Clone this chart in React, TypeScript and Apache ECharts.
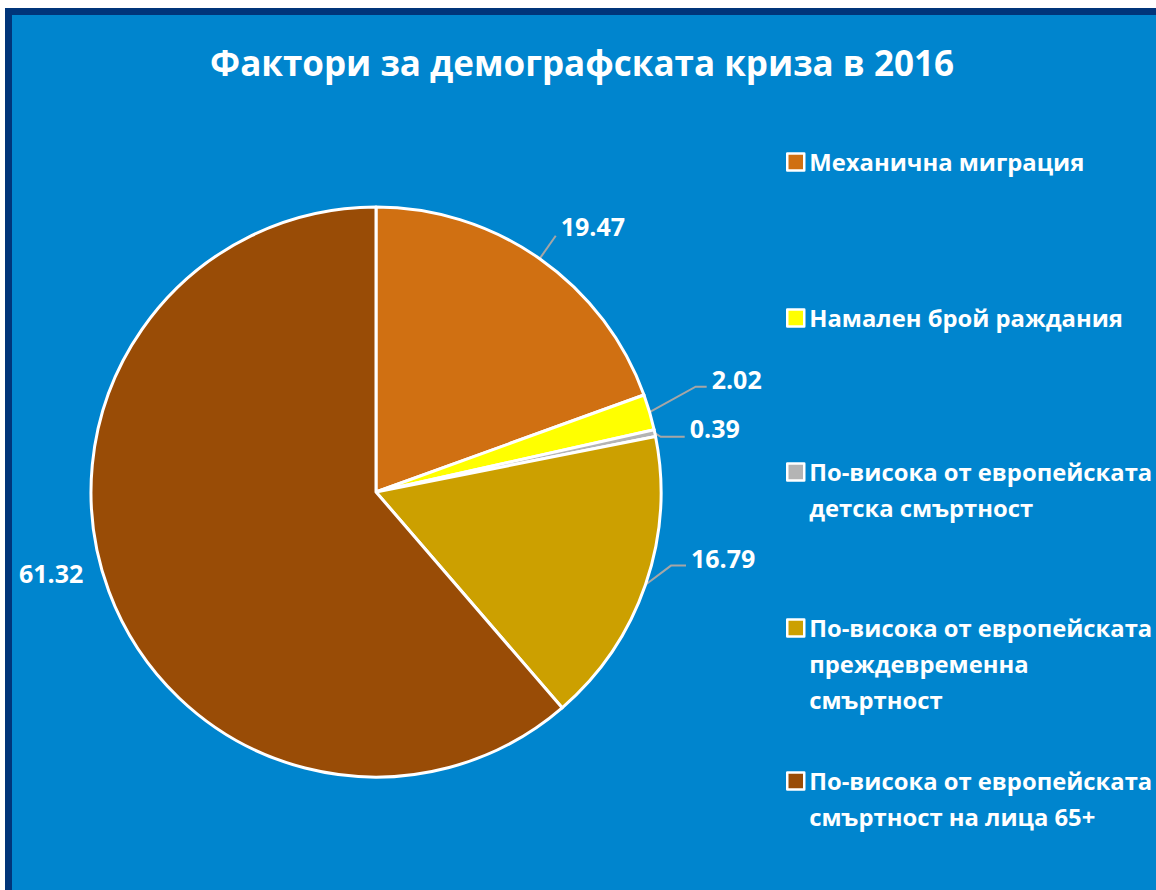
import React, { useEffect, useRef } from "react";
import * as echarts from "echarts";

const titleText = "Фактори за демографската криза в 2016";
const categories = [
  "Механична миграция",
  "Намален брой раждания",
  "По-висока от европейската детска смъртност",
  "По-висока от европейската преждевременна смъртност",
  "По-висока от европейската смъртност на лица 65+",
];
const legendLines = [
  ["Механична миграция"],
  ["Намален брой раждания"],
  ["По-висока от европейската", "детска смъртност"],
  ["По-висока от европейската", "преждевременна", "смъртност"],
  ["По-висока от европейската", "смъртност на лица 65+"],
];
const values = [19.47, 2.02, 0.39, 16.79, 61.32];
const colors = ["#D07012", "#FFFF00", "#B4B4B4", "#CCA000", "#994C06"];

// label layout tweaks (styling)
const lineLen = [28, 48, 6, 27, 22];
const lineLen2 = [0, 11, 24, 15, 0];
const lineShift = [0, -12, 5, -28, 0];
const textShift = [-10, -20, -3.5, -36, -25.5];
const showLine = [true, true, true, true, false];
const legendFirstLineY = [162, 318, 472, 628, 781];
const LEGEND_LH = 36;

const FONT = "'Open Sans', 'Noto Sans', sans-serif";

export default function App() {
  const ref = useRef<HTMLDivElement>(null);
  useEffect(() => {
    if (!ref.current) return;
    const chart = echarts.init(ref.current, undefined, { renderer: "svg" });
    const option: any = {
      animation: false,
      title: {
        text: titleText,
        left: 582,
        top: 45,
        textAlign: "center",
        padding: 0,
        textStyle: { color: "#fff", fontFamily: FONT, fontWeight: "bold", fontSize: 35 },
      },
      graphic: [
        {
          type: "rect",
          z: -10,
          silent: true,
          shape: { x: 8.5, y: 11.5, width: 1160, height: 900 },
          style: { fill: "#0085CE", stroke: "#00357A", lineWidth: 7 },
        },
      ],
      legend: categories.map((name, i) => {
        const lines = legendLines[i];
        const n = lines.length;
        // blank lines above keep the icon level with the first line
        const text = new Array(n - 1).fill("").concat(lines).join("\n");
        return {
          data: [name],
          orient: "vertical",
          left: 786,
          top: legendFirstLineY[i] - (n - 1) * LEGEND_LH - LEGEND_LH / 2,
          padding: 0,
          itemWidth: 17,
          itemHeight: 17,
          icon: "rect",
          selectedMode: false,
          itemStyle: { borderColor: "#fff", borderWidth: 2.5 },
          formatter: () => text,
          textStyle: {
            color: "#fff",
            fontFamily: FONT,
            fontWeight: "bold",
            fontSize: 23.8,
            lineHeight: LEGEND_LH,
          },
        };
      }),
      series: [
        {
          type: "pie",
          center: [376, 492],
          radius: 285,
          startAngle: 90,
          clockwise: true,
          avoidLabelOverlap: false,
          emphasis: { disabled: true },
          itemStyle: { borderColor: "#fff", borderWidth: 3 },
          label: {
            show: true,
            position: "outside",
            formatter: "{c}",
            color: "#fff",
            fontFamily: FONT,
            fontWeight: "bold",
            fontSize: 25,
          },
          labelLine: { lineStyle: { color: "#A6A6A6", width: 2 } },
          labelLayout: (params: any) => {
            const i = params.dataIndex;
            const pts = params.labelLinePoints;
            const res: any = { dy: textShift[i] };
            if (pts && pts.length) {
              res.labelLinePoints = pts.map((p: number[], k: number) =>
                k === 0 ? p : [p[0], p[1] + lineShift[i]]
              );
            }
            return res;
          },
          data: categories.map((name, i) => ({
            name,
            value: values[i],
            itemStyle: { color: colors[i] },
            labelLine: { show: showLine[i], length: lineLen[i], length2: lineLen2[i] },
          })),
        },
      ],
    };
    chart.setOption(option);
    return () => chart.dispose();
  }, []);
  return (
    <div
      ref={ref}
      style={{ position: "absolute", left: 0, top: 0, width: 1156, height: 890 }}
    />
  );
}
